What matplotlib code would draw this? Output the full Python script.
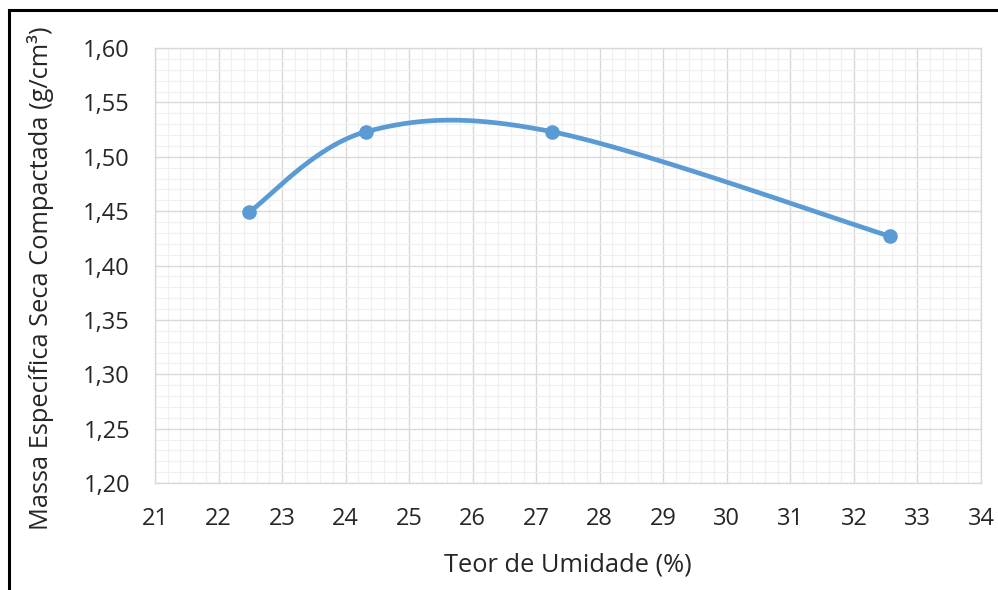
import numpy as np
import matplotlib
matplotlib.use("Agg")
import matplotlib.pyplot as plt
from matplotlib.ticker import MultipleLocator, FuncFormatter
from matplotlib.lines import Line2D

teor_umidade = [22.48, 24.32, 27.25, 32.56]
massa_especifica = [1.449, 1.523, 1.523, 1.427]

x_ticks = list(range(21, 35))
y_ticks = [1.20, 1.25, 1.30, 1.35, 1.40, 1.45, 1.50, 1.55, 1.60]

plt.rcParams['font.family'] = ['Open Sans', 'DejaVu Sans']

def excel_smooth(xs, ys, n=60):
    P = np.column_stack([xs, ys]).astype(float)
    pts = [P[0]]
    m = len(P)
    for i in range(m - 1):
        p0 = P[i - 1] if i > 0 else P[i]
        p1 = P[i]
        p2 = P[i + 1]
        p3 = P[i + 2] if i + 2 < m else P[i + 1]
        c1 = p1 + (p2 - p0) / 6.0
        c2 = p2 - (p3 - p1) / 6.0
        t = np.linspace(0, 1, n)[1:, None]
        seg = ((1 - t) ** 3) * p1 + 3 * ((1 - t) ** 2) * t * c1 + 3 * (1 - t) * t ** 2 * c2 + t ** 3 * p2
        pts.extend(seg)
    pts = np.array(pts)
    return pts[:, 0], pts[:, 1]

fig = plt.figure(figsize=(9.98, 5.9), dpi=100)
ax = fig.add_axes([155 / 998, 1 - 483 / 590, (981 - 155) / 998, (483 - 48) / 590])

sx, sy = excel_smooth(teor_umidade, massa_especifica)
ax.plot(sx, sy, color='#5B9BD5', lw=3.4, solid_capstyle='round', zorder=3)
ax.plot(teor_umidade, massa_especifica, 'o', color='#5B9BD5', ms=9.5, zorder=4)

ax.set_xlim(21, 34)
ax.set_ylim(1.20, 1.60)
ax.set_xticks(x_ticks)
ax.set_yticks(y_ticks)
ax.xaxis.set_minor_locator(MultipleLocator(0.2))
ax.yaxis.set_minor_locator(MultipleLocator(0.01))
ax.yaxis.set_major_formatter(FuncFormatter(lambda v, p: f"{v:.2f}".replace('.', ',')))
ax.grid(which='major', color='#d9d9d9', lw=1.0, zorder=1)
ax.grid(which='minor', color='#f0f0f0', lw=0.9, zorder=0)
ax.set_axisbelow(True)
for s in ax.spines.values():
    s.set_color('#d9d9d9')
    s.set_linewidth(1.0)
ax.tick_params(which='both', length=0, labelsize=17, colors='#262626')
ax.tick_params(axis='x', pad=17)
ax.tick_params(axis='y', pad=18)

fig.text(568 / 998, 1 - 565 / 590, 'Teor de Umidade (%)', ha='center', va='center',
         fontsize=18.3, color='#262626')
fig.text(41 / 998, 1 - 278 / 590, 'Massa Específica Seca Compactada (g/cm³)', ha='center', va='center',
         rotation=90, fontsize=18.3, color='#262626')

fig.add_artist(Line2D([9 / 998, 1], [1 - 10 / 590, 1 - 10 / 590], transform=fig.transFigure, color='black', lw=2.2))
fig.add_artist(Line2D([9 / 998, 9 / 998], [0, 1 - 10 / 590], transform=fig.transFigure, color='black', lw=2.2))

fig.savefig('out.png', dpi=100)
